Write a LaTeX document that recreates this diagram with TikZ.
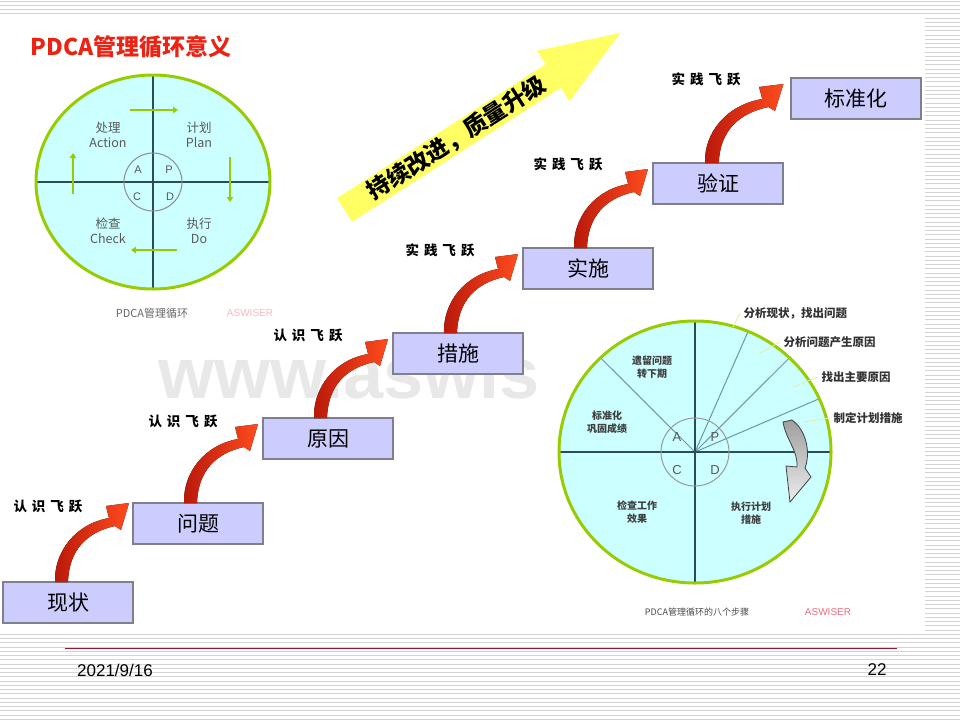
\documentclass[tikz,border=0pt]{standalone}
\usepackage{fontspec}
\setmainfont{Liberation Sans}
\newfontfamily\cjk{Noto Sans CJK SC}
\usetikzlibrary{arrows.meta, positioning, calc}

\definecolor{pdcafill}{RGB}{204,255,255}
\definecolor{pdcarim}{RGB}{153,204,0}
\definecolor{pdcaline}{RGB}{45,75,85}
\definecolor{spokeline}{RGB}{110,150,170}
\definecolor{stepfill}{RGB}{204,204,255}
\definecolor{stepdraw}{RGB}{128,128,140}
\definecolor{leapdark}{RGB}{185,25,10}
\definecolor{leaplight}{RGB}{255,75,30}
\definecolor{titlered}{RGB}{235,35,20}
\definecolor{goalyellow}{RGB}{255,255,100}
\definecolor{slidegrid}{RGB}{212,212,212}
\definecolor{footred}{RGB}{150,20,45}
\definecolor{markpink}{RGB}{240,110,130}
\definecolor{leaderyellow}{RGB}{230,235,160}

\newcommand{\lgap}{\hspace{5pt}}

\tikzset{
  leaparrow/.pic={
    \fill[left color=leapdark, right color=leaplight]
      (0,0) .. controls (-1,-30) and (20,-58) .. (54,-64)
      -- (51,-76) -- (74,-79) -- (66,-52) -- (60,-56)
      .. controls (32,-50) and (14,-32) .. (13,0) -- cycle;
  }
}

\begin{document}
\begin{tikzpicture}[x=1pt, y=-1pt,
    stepbox/.style={rectangle, draw=stepdraw, line width=1.5pt, fill=stepfill, minimum width=130pt, minimum height=41pt, inner sep=0pt, outer sep=0pt, font=\cjk\fontsize{21}{21}\selectfont},
    leap/.style={font=\cjk\bfseries\fontsize{13.5}{13.5}\selectfont},
    cyctext/.style={font=\cjk\fontsize{12.5}{15}\selectfont, text=black!65, align=center},
    cycletter/.style={font=\fontsize{11}{11}\selectfont, text=black!65},
    cyclearrow/.style={pdcarim, line width=2.5pt, -{Triangle[length=5pt, width=6.5pt]}},
    steptext/.style={font=\cjk\bfseries\fontsize{10}{13}\selectfont, text=black!75, align=center},
    steplabel/.style={font=\cjk\bfseries\fontsize{11.5}{11.5}\selectfont, text=black!80, anchor=west},
    leader/.style={draw=leaderyellow, line width=0.8pt},
    caption/.style={font=\cjk\fontsize{11}{11}\selectfont, text=black!60}
]
\useasboundingbox (0,0) rectangle (960,720);
\fill[white] (0,0) rectangle (960,720);
\foreach \k in {0,...,169}
  \draw[slidegrid, line width=0.8pt] (0,{\k*4.25+1}) -- (960,{\k*4.25+1});
\fill[white] (0,17) rectangle (925,634);

% watermark
\begin{scope}
  \clip (0,300) rectangle (548,420);
  \node[font=\bfseries\fontsize{72}{72}\selectfont, text=black!9, anchor=base west, inner sep=0pt] (wm) at (158,398) {www.aswis};
\end{scope}

\node[font=\cjk\bfseries\fontsize{23}{23}\selectfont, text=titlered, anchor=west] (title) at (27,47) {PDCA管理循环意义};

% PDCA circle
\fill[pdcafill] (153,182) ellipse [x radius=117, y radius=107];
\draw[pdcaline, line width=1.5pt] (36,182) -- (270,182);
\draw[pdcaline, line width=1.5pt] (153,75) -- (153,289);
\draw[pdcarim, line width=3pt] (153,182) ellipse [x radius=117, y radius=107];
\draw[black!45, line width=1pt] (153,182) circle [radius=29];
\node[cycletter] (ca) at (138,170) {A};
\node[cycletter] (cp) at (169,170) {P};
\node[cycletter] (cc) at (137,197) {C};
\node[cycletter] (cd) at (170,197) {D};
\node[cyctext] (action) at (108,135) {处理\\Action};
\node[cyctext] (plan) at (199,135) {计划\\Plan};
\node[cyctext] (check) at (108,231) {检查\\Check};
\node[cyctext] (do) at (199,231) {执行\\Do};
\draw[cyclearrow] (130,110) -- (178,110);
\draw[cyclearrow] (230,157) -- (230,202);
\draw[cyclearrow] (177,250) -- (131,250);
\draw[cyclearrow] (73,194) -- (73,153);
\node[caption] (cap1) at (152,313) {PDCA管理循环};
\node[font=\fontsize{10}{10}\selectfont, text=markpink!50] (mark1) at (250,313) {ASWISER};

% rising arrow
\begin{scope}[shift={(344.5,210)}, rotate=32.7]
  \fill[goalyellow] (0,-14) -- (248,-14) -- (248,-30) -- (328,0) -- (248,30) -- (248,14) -- (0,14) -- cycle;
  \node[rotate=32.7, font=\cjk\bfseries\fontsize{23}{23}\selectfont] (goal) at (133,0) {持续改进，质量升级};
\end{scope}

% steps
\node[stepbox] (now) at (68,602.5) {现状};
\node[stepbox, above right=38pt and 0pt of now] (issue) {问题};
\node[stepbox, above right=44pt and 0pt of issue] (cause) {原因};
\node[stepbox, above right=44pt and 0pt of cause] (measure) {措施};
\node[stepbox, above right=44pt and 0pt of measure] (act) {实施};
\node[stepbox, above right=44pt and 0pt of act] (verify) {验证};
\node[stepbox, above right=44pt and 8pt of verify] (std) {标准化};

\pic at ($(now.north west)+(52,0)$) {leaparrow};
\pic at ($(issue.north west)+(51,0)$) {leaparrow};
\pic at ($(cause.north west)+(51,0)$) {leaparrow};
\pic at ($(measure.north west)+(51,0)$) {leaparrow};
\pic at ($(act.north west)+(51,0)$) {leaparrow};
\pic[xscale=1.06] at ($(verify.north west)+(52,0)$) {leaparrow};

\node[leap] (k1) at ($(issue.north west)+(-85,3)$) {认\lgap 识\lgap 飞\lgap 跃};
\node[leap] (k2) at ($(cause.north west)+(-80,3)$) {认\lgap 识\lgap 飞\lgap 跃};
\node[leap] (k3) at ($(measure.north west)+(-85,2)$) {认\lgap 识\lgap 飞\lgap 跃};
\node[leap] (p1) at ($(act.north west)+(-83,2)$) {实\lgap 践\lgap 飞\lgap 跃};
\node[leap] (p2) at ($(verify.north west)+(-85,1)$) {实\lgap 践\lgap 飞\lgap 跃};
\node[leap] (p3) at ($(std.north west)+(-85,1)$) {实\lgap 践\lgap 飞\lgap 跃};

% eight steps circle
\fill[pdcafill] (695,452) ellipse [x radius=136, y radius=131];
\draw[spokeline, line width=1pt] (695,452) -- ([shift={(695,452)}] -134:136 and 131);
\draw[spokeline, line width=1pt] (695,452) -- ([shift={(695,452)}] -67:136 and 131);
\draw[spokeline, line width=1pt] (695,452) -- ([shift={(695,452)}] -46:136 and 131);
\draw[spokeline, line width=1pt] (695,452) -- ([shift={(695,452)}] -24:136 and 131);
\draw[pdcaline, line width=1.5pt] (559,452) -- (831,452);
\draw[pdcaline, line width=1.5pt] (695,321) -- (695,583);
\draw[pdcarim, line width=3pt] (695,452) ellipse [x radius=136, y radius=131];
\draw[black!40, line width=1pt] (695,452) circle [radius=34];
\node[cycletter, font=\fontsize{13}{13}\selectfont] (ea) at (677,437) {A};
\node[cycletter, font=\fontsize{13}{13}\selectfont] (ep) at (715,437) {P};
\node[cycletter, font=\fontsize{13}{13}\selectfont] (ec) at (677,470) {C};
\node[cycletter, font=\fontsize{13}{13}\selectfont] (ed) at (715,470) {D};
\node[steptext] (s8) at (652,367) {遗留问题\\转下期};
\node[steptext] (s7) at (607,422) {标准化\\巩固成绩};
\node[steptext] (s6) at (637,512) {检查工作\\效果};
\node[steptext] (s5) at (751,513) {执行计划\\措施};
\node[steplabel] (s1) at (740,313) {分析现状，找出问题};
\node[steplabel] (s2) at (780,342) {分析问题产生原因};
\node[steplabel] (s3) at (818,377) {找出主要原因};
\node[steplabel] (s4) at (830,418) {制定计划措施};
\coordinate (e1) at (733,327);
\coordinate (e2) at (760,353);
\coordinate (e3) at (793,387);
\coordinate (e4) at (803,422);
\draw[leader] (e1) -- (s1.west);
\draw[leader] (e2) -- (s2.west);
\draw[leader] (e3) -- (s3.west);
\draw[leader] (e4) -- (s4.west);
\draw[top color=gray!75, bottom color=gray!15, draw=black!75, line width=0.8pt]
  (783,422) -- (792,420) .. controls (806,430) and (811,452) .. (805,468)
  -- (811,477) -- (790,502) -- (786,466) -- (797,467)
  .. controls (798,450) and (786,440) .. (783,422) -- cycle;
\node[caption, font=\cjk\fontsize{9}{9}\selectfont, text=black!70] (cap2) at (697,612) {PDCA管理循环的八个步骤};
\node[font=\fontsize{10}{10}\selectfont, text=markpink] (mark2) at (828,612) {ASWISER};

% footer
\draw[footred, line width=1pt] (65,648) -- (897,648);
\node[font=\fontsize{17}{17}\selectfont] (date) at (115,670) {2021/9/16};
\node[font=\fontsize{17}{17}\selectfont] (page) at (877,670) {22};
\end{tikzpicture}
\end{document}
